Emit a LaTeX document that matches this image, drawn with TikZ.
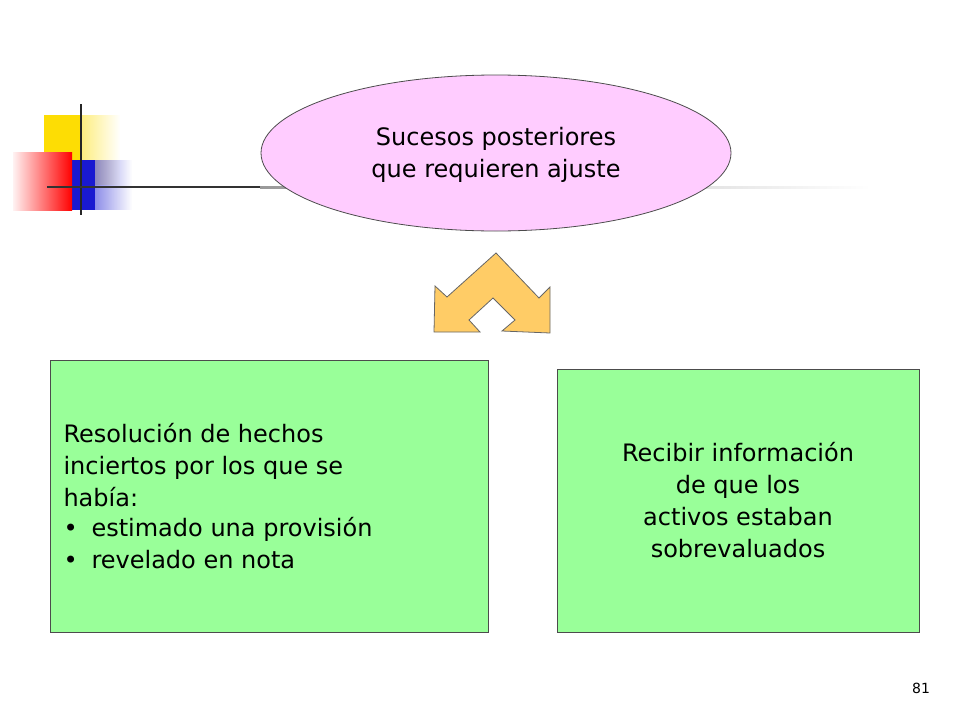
\documentclass[tikz,border=0pt]{standalone}
\usepackage{fontspec}
\setmainfont{DejaVu Sans}
\usetikzlibrary{shapes.geometric,fadings}
\definecolor{pinkf}{HTML}{FFCCFF}
\definecolor{greenf}{HTML}{99FF99}
\definecolor{arrowf}{HTML}{FFCC66}
\tikzset{box/.style={draw=black!70,fill=greenf,line width=0.8pt},
 txt/.style={font=\fontsize{24}{32}\selectfont}}
\begin{document}
\begin{tikzpicture}[x=1pt,y=-1pt]
\useasboundingbox (0,0) rectangle (960,720);
% logo
\fill[yellow!80!orange,path fading=east] (44,115) rectangle (120,185);
\fill[yellow!80!orange] (44,115) rectangle (80,160);
\fill[blue!80!black!90,path fading=east] (57,160) rectangle (132,210);
\fill[blue!80!black!90] (57,160) rectangle (95,210);
\shade[left color=red!5,right color=red] (13,152) rectangle (72,210);
\draw[line width=2.5pt,black!85] (81,104) -- (81,215);
\draw[line width=2.5pt,black!80] (47,187) -- (260,187);
\fill[black!40,path fading=east] (260,185.5) rectangle (870,188.5);
% ellipse
\node[ellipse,draw=black!70,fill=pinkf,line width=0.8pt,minimum width=470,minimum height=156,inner sep=0] (top) at (496,153) {};
\node[txt,align=center] (toptxt) at (496,155) {Sucesos posteriores\\ que requieren ajuste};
% arrow
\filldraw[fill=arrowf,draw=black!60,line width=0.8pt] (496,253) -- (539,298) -- (550,287) -- (550,333) -- (502,331) -- (515,320) -- (493,298) -- (469,320) -- (480,332) -- (434,332) -- (435,286) -- (447,297) -- cycle;
% boxes
\node[box,minimum width=438,minimum height=272,inner sep=0] (left) at (269,496) {};
\node[txt,align=left,anchor=west] (lefttxt) at (60,496) {Resolución de hechos\\inciertos por los que se\\había:\\[-2pt]%
\makebox[28pt][l]{\textbullet}estimado una provisión\\\makebox[28pt][l]{\textbullet}revelado en nota};
\node[box,minimum width=362,minimum height=263,inner sep=0] (right) at (738,500.5) {};
\node[txt,align=center] (righttxt) at (738,500) {Recibir información\\de que los\\activos estaban\\sobrevaluados};
\node[font=\fontsize{14}{16}\selectfont] (num) at (921,688) {81};
\end{tikzpicture}
\end{document}
